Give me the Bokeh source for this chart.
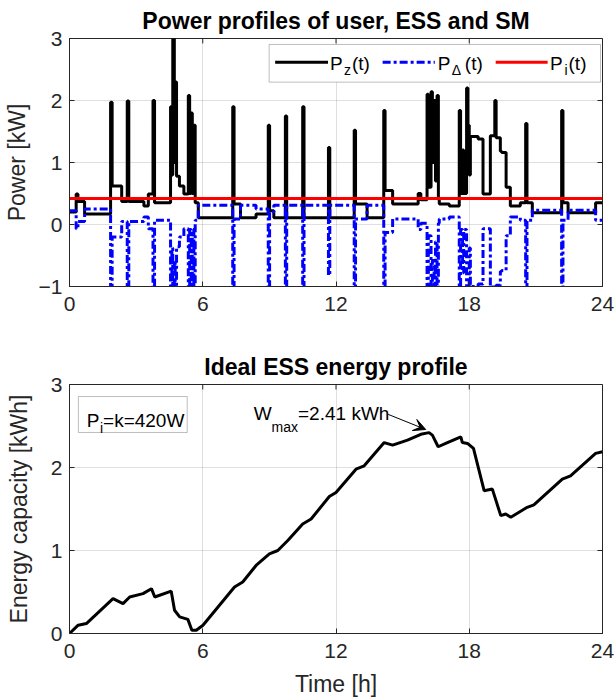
from bokeh.plotting import figure
from bokeh.layouts import column
from bokeh.models import (Range1d, FixedTicker, Arrow, VeeHead,
                          BoxAnnotation, Label)
from bokeh.embed import file_html
from bokeh.resources import INLINE

# ---------------- data ----------------
x_ticks = [0, 6, 12, 18, 24]
y_ticks_power = [-1, 0, 1, 2, 3]
y_ticks_energy = [0, 1, 2, 3]

P_i = 0.42  # kW (k = 420 W)

# user power P_z(t): step breakpoints [h] and values [kW]
t_z = [0.00, 0.30, 0.38, 0.68, 1.85, 1.92, 2.35, 2.60, 2.67, 3.35, 3.55, 3.76, 3.83,
       4.55, 4.61, 4.65, 4.72, 4.76, 4.82, 4.95, 5.15, 5.35, 5.41, 5.48, 5.53, 5.60,
       5.66, 5.80, 7.35, 7.41, 7.70, 8.40, 8.95, 9.01, 9.20, 9.72, 9.78, 10.50, 10.56,
       11.66, 11.72, 12.82, 12.88, 13.40, 14.15, 14.21, 14.55, 15.70, 15.82, 16.10,
       16.16, 16.28, 16.34, 16.42, 16.48, 16.55, 16.61, 16.65, 17.10, 17.55, 17.61,
       17.70, 17.75, 17.88, 17.94, 18.00, 18.05, 18.40, 18.62, 18.95, 19.15, 19.21,
       19.40, 19.46, 19.66, 19.85, 20.30, 20.54, 20.60, 20.84, 22.16, 22.22, 22.45,
       23.69, 24.00]
p_z = [0.20, 0.49, 0.37, 0.17, 1.97, 0.62, 0.37, 1.99, 0.37, 0.30, 0.49, 2.00, 0.35,
       1.90, 0.80, 3.20, 1.00, 2.30, 0.78, 0.62, 0.49, 2.08, 0.50, 1.80, 0.50, 1.60,
       0.35, 0.11, 1.90, 0.33, 0.11, 0.17, 1.60, 0.22, 0.11, 1.75, 0.11, 1.90, 0.11,
       1.24, 0.11, 1.52, 0.33, 0.11, 1.84, 0.55, 0.33, 0.50, 0.40, 2.10,
       0.60, 2.14, 1.00, 2.00, 0.70, 2.08, 0.40, 0.33, 0.30, 1.84, 0.50,
       1.20, 0.50, 2.20, 1.60, 0.80, 1.42, 1.38, 0.49, 1.43, 2.00, 1.40,
       1.18, 1.16, 0.60, 0.30, 0.35, 1.63, 0.35, 0.19, 1.84, 0.35, 0.19,
       0.35, 0.35]
# ESS power P_delta(t) on the same breakpoints [kW]
p_delta = [0.22, -0.07, 0.05, 0.25, -1.55, -0.20, 0.05, -1.57, 0.05, 0.12, -0.07, -1.58, 0.07,
           -1.48, -0.38, -2.78, -0.58, -1.88, -0.36, -0.20, -0.07, -1.66, -0.08, -1.38, -0.08, -1.18,
           0.07, 0.31, -1.48, 0.09, 0.31, 0.25, -1.18, 0.20, 0.31, -1.33, 0.31, -1.48, 0.31,
           -0.82, 0.31, -1.10, 0.09, 0.31, -1.42, -0.13, 0.09, -0.08, 0.02, -1.68,
           -0.18, -1.72, -0.58, -1.58, -0.28, -1.66, 0.02, 0.09, 0.12, -1.42, -0.08,
           -0.78, -0.08, -1.78, -1.18, -0.38, -1.00, -0.96, -0.07, -1.01, -1.58, -0.98,
           -0.76, -0.74, -0.18, 0.12, 0.07, -1.21, 0.07, 0.23, -1.42, 0.07, 0.23,
           0.07, 0.07]

# ideal ESS energy W(t)
t_e = [0.00, 0.39, 0.76, 1.96, 2.41, 2.71, 3.31, 3.69, 3.84, 4.58, 4.73, 4.96, 5.33, 5.51,
       5.71, 6.01, 7.43, 7.80, 8.40, 9.00, 9.38, 9.83, 10.50, 10.88, 11.70, 12.00, 12.90,
       13.27, 14.17, 14.55, 15.22, 15.82, 16.19, 16.34, 16.60, 16.94, 17.62, 17.69, 17.92,
       18.19, 18.67, 19.04, 19.42, 19.64, 19.87, 20.61, 20.91, 22.19, 22.56, 23.69, 24.00]
w_e = [0.00, 0.10, 0.12, 0.42, 0.36, 0.44, 0.48, 0.54, 0.44, 0.51, 0.28, 0.20, 0.17, 0.04,
       0.04, 0.10, 0.56, 0.62, 0.82, 0.96, 1.00, 1.12, 1.32, 1.38, 1.65, 1.70, 1.98,
       2.02, 2.30, 2.27, 2.33, 2.40, 2.42, 2.39, 2.25, 2.29, 2.37, 2.30, 2.29,
       2.23, 1.72, 1.74, 1.42, 1.44, 1.40, 1.52, 1.55, 1.86, 1.90, 2.17, 2.19]

# ---------------- style ----------------
FONT = "Liberation Sans"
AX = "#262626"
TICK_FS = "21px"
LAB_FS = "23px"
TICK_PX = 5  # inward tick length in pixels


def inner_ticks(p, x0, x1, y0, y1, yticks, fw, fh):
    """Inward ticks on the top and right edges of the box (MATLAB 'box on')."""
    dy = (y1 - y0) * TICK_PX / fh
    dx = (x1 - x0) * TICK_PX / fw
    p.segment(x0=x_ticks, y0=[y1] * len(x_ticks), x1=x_ticks, y1=[y1 - dy] * len(x_ticks),
              line_color=AX, line_width=1)
    p.segment(x0=[x1] * len(yticks), y0=yticks, x1=[x1 - dx] * len(yticks), y1=yticks,
              line_color=AX, line_width=1)


def style(p, yticks, ylabel, xlabel, ylab_standoff):
    for ax in (p.xaxis[0], p.yaxis[0]):
        ax.major_tick_in = TICK_PX
        ax.major_tick_out = 0
        ax.minor_tick_line_color = None
        ax.axis_line_color = AX
        ax.major_tick_line_color = AX
        ax.major_label_text_font = FONT
        ax.major_label_text_font_size = TICK_FS
        ax.major_label_text_color = AX
        ax.axis_label_text_font = FONT
        ax.axis_label_text_font_size = LAB_FS
        ax.axis_label_text_font_style = "normal"
        ax.axis_label_text_color = AX
    p.xaxis[0].ticker = FixedTicker(ticks=x_ticks)
    p.yaxis[0].ticker = FixedTicker(ticks=yticks)
    p.xaxis[0].major_label_standoff = 10
    p.yaxis[0].major_label_standoff = 7
    p.yaxis[0].axis_label = ylabel
    p.yaxis[0].axis_label_standoff = ylab_standoff
    if xlabel:
        p.xaxis[0].axis_label = xlabel
        p.xaxis[0].axis_label_standoff = 10
    p.xgrid.ticker = FixedTicker(ticks=x_ticks)
    p.ygrid.ticker = FixedTicker(ticks=yticks)
    for g in (p.xgrid, p.ygrid):
        g.grid_line_color = AX
        g.grid_line_alpha = 0.15
    p.outline_line_color = AX
    p.outline_line_alpha = 1.0
    p.title.align = "center"
    p.title.text_font = FONT
    p.title.text_font_size = LAB_FS
    p.title.text_font_style = "bold"
    p.title.text_color = "#000000"
    p.background_fill_color = "white"
    p.border_fill_color = "white"


def lbl(p, x, y, text, size):
    p.add_layout(Label(x=x, y=y, text=text, text_font=FONT, text_font_size=size,
                       text_color="#000000", text_baseline="alphabetic", text_align="left"))


# ---------------- top plot ----------------
p1 = figure(width=616, height=330, x_range=Range1d(0, 24), y_range=Range1d(-1, 3),
            output_backend="svg", toolbar_location=None,
            title="Power profiles of user, ESS and SM",
            min_border_left=68, min_border_right=14, min_border_top=36, min_border_bottom=44)
style(p1, y_ticks_power, "Power [kW]", None, 6)

p1.step(t_z, p_z, mode="after", line_color="black", line_width=3)
p1.step(t_z, p_delta, mode="after", line_color="#0000ff", line_width=3, line_dash="8 3 3 3")
p1.line([0, 24], [P_i, P_i], line_color="#ff0000", line_width=3)
inner_ticks(p1, 0, 24, -1, 3, y_ticks_power, 534, 250)

# legend (manual, for subscripts)
p1.add_layout(BoxAnnotation(left=8.99, right=23.91, bottom=2.296, top=2.904,
                            fill_color="white", fill_alpha=1.0, line_color=AX, line_width=1))
p1.add_layout(Arrow(end=None, x_start=9.26, y_start=2.616, x_end=11.64, y_end=2.616,
                    line_color="black", line_width=3))
p1.add_layout(Arrow(end=None, x_start=14.10, y_start=2.616, x_end=16.45, y_end=2.616,
                    line_color="#0000ff", line_width=3, line_dash="8 3 3 3"))
p1.add_layout(Arrow(end=None, x_start=19.19, y_start=2.616, x_end=21.53, y_end=2.616,
                    line_color="#ff0000", line_width=3))
LEG = "19px"
SUB = "14px"
lbl(p1, 11.73, 2.60, "P", LEG)
lbl(p1, 12.36, 2.50, "z", SUB)
lbl(p1, 12.72, 2.60, "(t)", LEG)
lbl(p1, 16.58, 2.60, "P", LEG)
lbl(p1, 17.21, 2.50, "Δ", SUB)
lbl(p1, 17.80, 2.60, "(t)", LEG)
lbl(p1, 21.64, 2.60, "P", LEG)
lbl(p1, 22.29, 2.50, "i", SUB)
lbl(p1, 22.47, 2.60, "(t)", LEG)

# ---------------- bottom plot ----------------
p2 = figure(width=616, height=370, x_range=Range1d(0, 24), y_range=Range1d(0, 3),
            output_backend="svg", toolbar_location=None,
            title="Ideal ESS energy profile",
            min_border_left=68, min_border_right=14, min_border_top=54, min_border_bottom=67)
style(p2, y_ticks_energy, "Energy capacity [kWh]", "Time [h]", 16)

p2.line(t_e, w_e, line_color="black", line_width=3)
inner_ticks(p2, 0, 24, 0, 3, y_ticks_energy, 534, 249)

p2.add_layout(BoxAnnotation(left=0.40, right=5.30, bottom=2.422, top=2.855,
                            fill_color="white", fill_alpha=1.0, line_color=AX, line_width=1))
ANN = "19px"
lbl(p2, 0.78, 2.566, "P", ANN)
lbl(p2, 1.37, 2.48, "i", SUB)
lbl(p2, 1.51, 2.566, "=k=420W", ANN)

lbl(p2, 8.30, 2.651, "W", ANN)
lbl(p2, 9.10, 2.486, "max", SUB)
lbl(p2, 10.29, 2.651, "=2.41 kWh", ANN)
p2.add_layout(Arrow(end=VeeHead(size=12, fill_color="black", line_color="black"),
                    x_start=14.35, y_start=2.64, x_end=16.04, y_end=2.458,
                    line_color="black", line_width=1))

layout = column(p1, p2, spacing=0)
open("out.html", "w").write(file_html(layout, INLINE))
